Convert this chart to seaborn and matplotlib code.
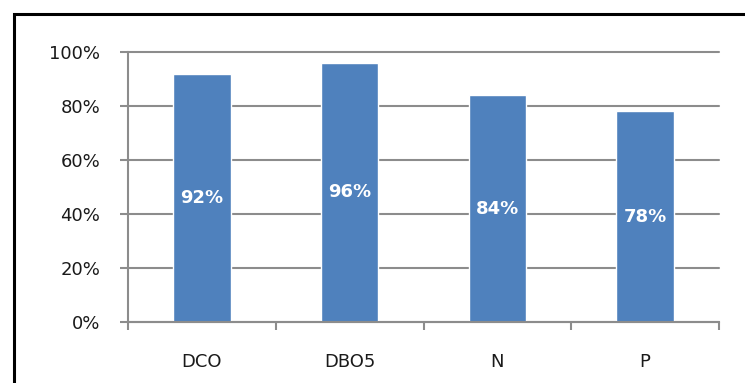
import matplotlib.pyplot as plt
import seaborn as sns
import pandas as pd
from matplotlib.patches import Rectangle
from matplotlib.ticker import PercentFormatter

# removal efficiency per parameter
categories = ['DCO', 'DBO5', 'N', 'P']
values = [92, 96, 84, 78]
yticks = [0, 20, 40, 60, 80, 100]

data = pd.DataFrame({'Param': categories, 'Eff': values})

sns.set_style('white')
plt.rcParams['font.family'] = ['DejaVu Sans']

fig = plt.figure(figsize=(7.45, 3.83), dpi=100)
ax = fig.add_axes([128 / 745, 1 - 322 / 383, (719 - 128) / 745, (322 - 52) / 383])

sns.barplot(x='Param', y='Eff', data=data, color='#4F81BD', width=0.39,
            saturation=1, ax=ax, zorder=3)

#labels in the middle of each bar
for i, v in enumerate(values):
    ax.text(i, v / 2, f'{v}%', ha='center', va='center', color='white',
            fontsize=13, fontweight='bold', zorder=4)

ax.set_xlim(-0.5, len(categories) - 0.5)
ax.set_ylim(0, 100)
ax.set_yticks(yticks)
ax.yaxis.set_major_formatter(PercentFormatter(decimals=0))
ax.grid(axis='y', color='#8c8c8c', linewidth=1.5, zorder=0)
for gl in ax.get_ygridlines():
    gl.set_clip_on(False)

#x ticks sit between categories, labels centred on bars
ax.set_xticks([i - 0.5 for i in range(len(categories) + 1)])
ax.set_xticklabels([])
ax.set_xticks(range(len(categories)), minor=True)
ax.set_xticklabels(categories, minor=True)
ax.tick_params(axis='x', which='minor', length=0, pad=22, labelsize=13, labelcolor='#1a1a1a')
ax.tick_params(axis='x', which='major', direction='out', length=6, width=1.5, color='#8c8c8c', bottom=True)
ax.tick_params(axis='y', direction='out', length=6, width=1.5, color='#8c8c8c', left=True,
               pad=14, labelsize=13, labelcolor='#1a1a1a')
ax.set_xlabel('')
ax.set_ylabel('')

for side in ['top', 'right']:
    ax.spines[side].set_visible(False)
for side in ['left', 'bottom']:
    ax.spines[side].set_color('#8c8c8c')
    ax.spines[side].set_linewidth(1.5)
    ax.spines[side].set_zorder(5)

#chart frame, only left and top edges visible in the crop
fig.add_artist(Rectangle((14 / 745, -0.5), 2, 1.5 - 14 / 383, transform=fig.transFigure,
                         fill=False, edgecolor='black', linewidth=2.2))

fig.savefig('out.png', dpi=100)
